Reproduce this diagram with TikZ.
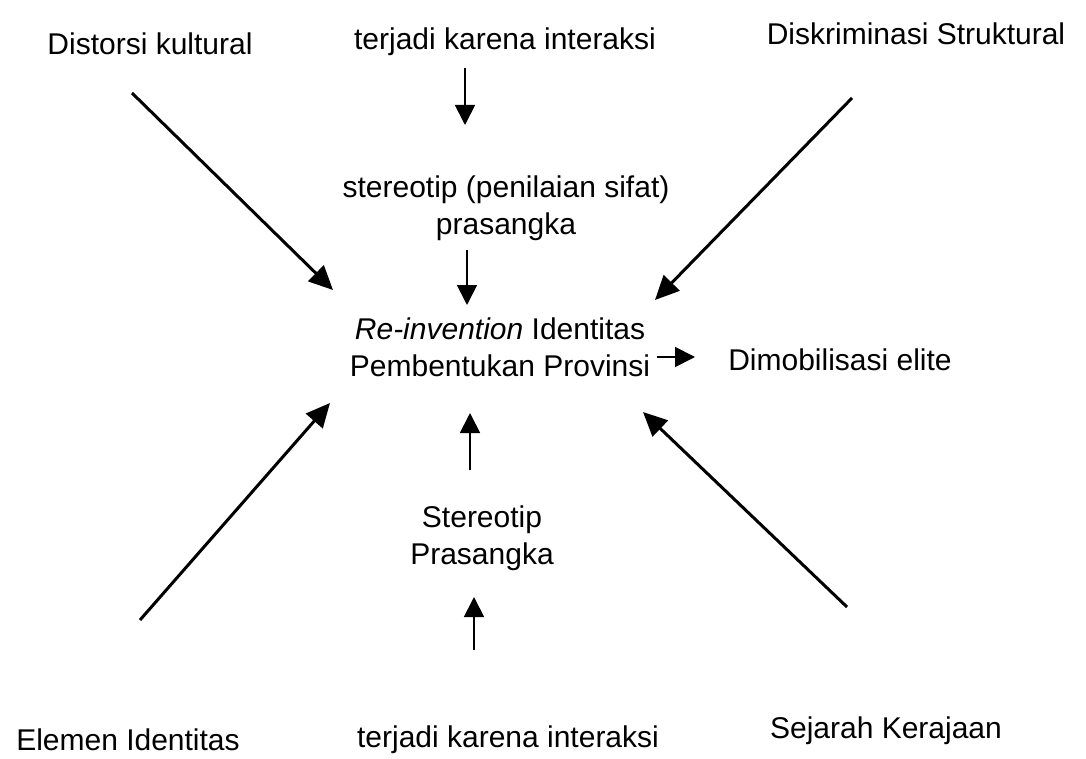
\documentclass[tikz,border=0pt]{standalone}
\usepackage{fontspec}
\setmainfont{Liberation Sans}
\usetikzlibrary{arrows.meta}

\begin{document}
\begin{tikzpicture}
		[
			x=0.5pt, y=-0.5pt,
			% Make a style for the text.
			txt/.style={font=\fontsize{15}{18.5}\selectfont, align=center, inner sep=0pt},
			% And one for the long slanted arrows.
			bigarrow/.style={line width=1.5pt, -{Triangle[length=12pt, width=11pt]}},
			% And one for the short straight arrows.
			smallarrow/.style={line width=0.9pt, -{Triangle[length=10pt, width=10pt]}}
		]
			\useasboundingbox (0,0) rectangle (1086,759);
			
			% Outer texts.
			\node[txt, anchor=base] (dk) at (150,55) {Distorsi kultural};
			\node[txt, anchor=base] (ti1) at (505,50) {terjadi karena interaksi};
			\node[txt, anchor=base] (ds) at (916,45) {Diskriminasi Struktural};
			\node[txt, anchor=base] (ei) at (128,750) {Elemen Identitas};
			\node[txt, anchor=base] (ti2) at (508,747) {terjadi karena interaksi};
			\node[txt, anchor=base] (sk) at (886,738) {Sejarah Kerajaan};
			
			% Inner texts.
			\node[txt] (sp1) at (506,208) {stereotip (penilaian sifat)\\prasangka};
			\node[txt] (ri) at (500,347) {\textit{Re-invention} Identitas\\Pembentukan Provinsi};
			\node[txt] (sp2) at (482,538) {Stereotip\\Prasangka};
			\node[txt, anchor=base] (de) at (840,370) {Dimobilisasi elite};
			
			% Ends of the arrows.
			\coordinate (dk-s) at (132,93);
			\coordinate (dk-e) at (333,290);
			\coordinate (ds-s) at (852,98);
			\coordinate (ds-e) at (655,300);
			\coordinate (ei-s) at (140,620);
			\coordinate (ei-e) at (330,403);
			\coordinate (sk-s) at (847,607);
			\coordinate (sk-e) at (643,412);
			\coordinate (ti1-s) at (465,68);
			\coordinate (sp1-n) at (465,125);
			\coordinate (sp1-s) at (467,250);
			\coordinate (ri-n) at (467,305);
			\coordinate (ri-s) at (470,413);
			\coordinate (sp2-n) at (470,470);
			\coordinate (sp2-s) at (474,597);
			\coordinate (ti2-n) at (474,650);
			\coordinate (ri-e) at (657,357);
			\coordinate (de-w) at (695,357);
			
			% Draw the arrows.
			\draw[bigarrow] (dk-s) -- (dk-e);
			\draw[bigarrow] (ds-s) -- (ds-e);
			\draw[bigarrow] (ei-s) -- (ei-e);
			\draw[bigarrow] (sk-s) -- (sk-e);
			\draw[smallarrow] (ti1-s) -- (sp1-n);
			\draw[smallarrow] (sp1-s) -- (ri-n);
			\draw[smallarrow] (sp2-n) -- (ri-s);
			\draw[smallarrow] (ti2-n) -- (sp2-s);
			\draw[smallarrow] (ri-e) -- (de-w);
		\end{tikzpicture}
\end{document}
